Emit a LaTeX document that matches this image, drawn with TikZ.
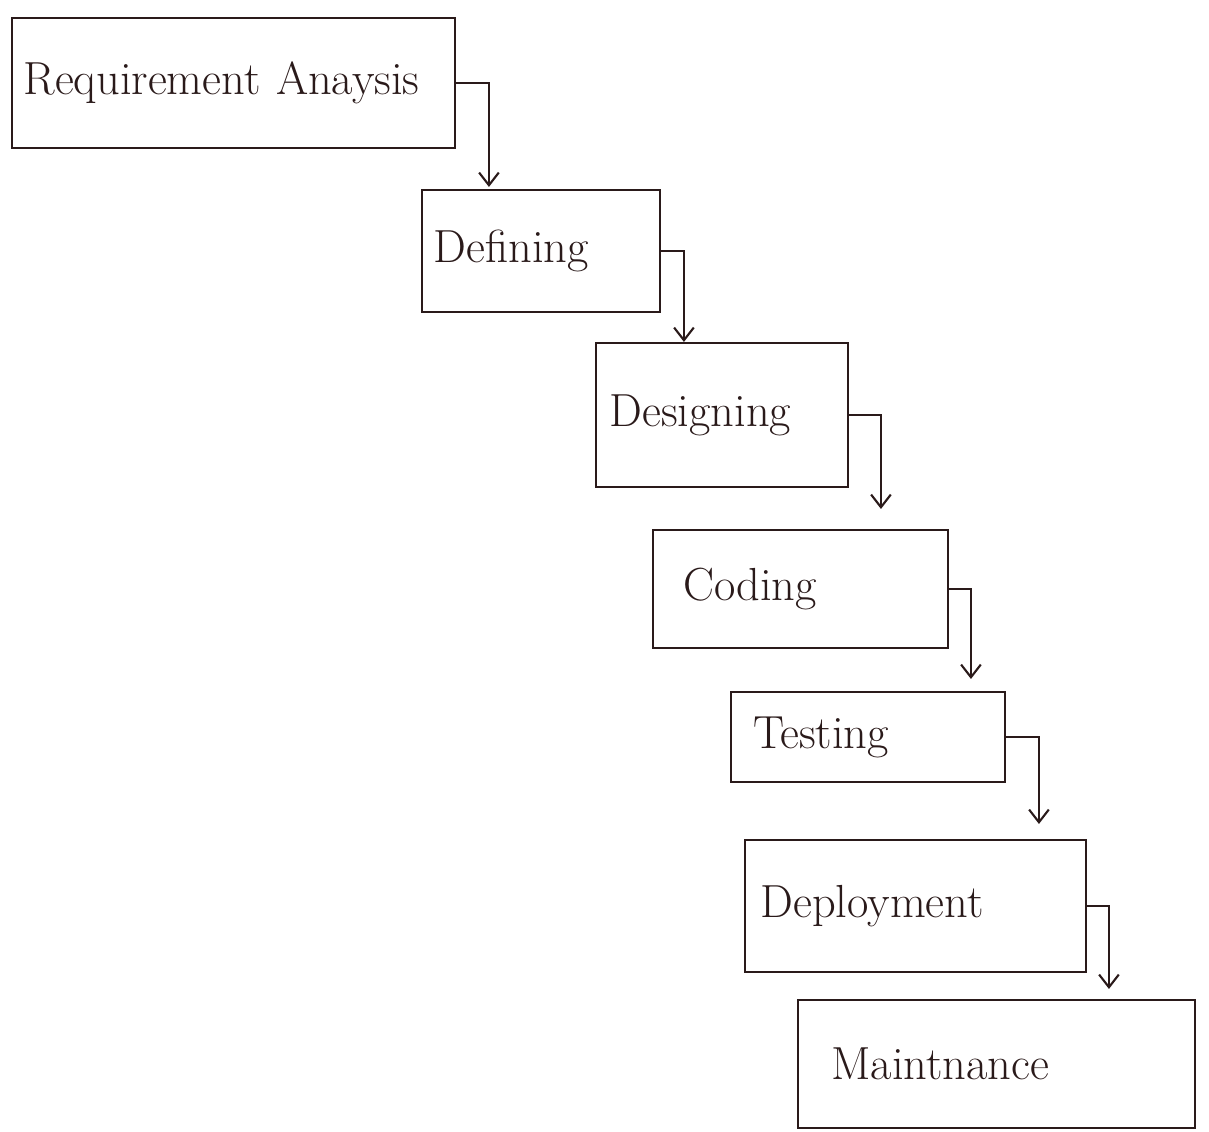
\documentclass[tikz,border=0pt]{standalone}
\usetikzlibrary{arrows.meta,calc}
\definecolor{ink}{HTML}{2A1A1A}
\begin{document}
\begin{tikzpicture}[x=0.025cm,y=-0.025cm,
  stage/.style={draw=ink,line width=1.5pt,rectangle,inner sep=0pt,align=left,
    font=\fontsize{33}{38}\selectfont,text=ink},
  flow/.style={draw=ink,line width=1.5pt,-{Straight Barb[length=9pt,width=14pt]}}]
\useasboundingbox[fill=white] (0,0) rectangle (1209,1131);
\node[stage,minimum width=443*0.025cm,minimum height=130*0.025cm,text width=420*0.025cm] (req) at (233.5,83) {Requirement Anaysis};
\node[stage,minimum width=238*0.025cm,minimum height=122*0.025cm,text width=215*0.025cm] (def) at (541,251) {Defining};
\node[stage,minimum width=252*0.025cm,minimum height=144*0.025cm,text width=225*0.025cm] (des) at (722,415) {Designing};
\node[stage,minimum width=295*0.025cm,minimum height=118*0.025cm,text width=235*0.025cm] (cod) at (800.5,589) {Coding};
\node[stage,minimum width=274*0.025cm,minimum height=90*0.025cm,text width=230*0.025cm] (tes) at (868,737) {Testing};
\node[stage,minimum width=341*0.025cm,minimum height=132*0.025cm,text width=310*0.025cm] (dep) at (915.5,906) {Deployment};
\node[stage,minimum width=397*0.025cm,minimum height=128*0.025cm,text width=330*0.025cm] (mai) at (996.5,1064) {Maintnance};
\draw[flow] (req.east) -| ($(def.north west)+(68,-2)$);
\draw[flow] (def.east) -| ($(des.north west)+(89,0)$);
\draw[flow] (des.east) -| ($(cod.north west)+(229,-20)$);
\draw[flow] (cod.east) -| ($(tes.north west)+(241,-12)$);
\draw[flow] (tes.east) -| ($(dep.north west)+(295,-15)$);
\draw[flow] (dep.east) -| ($(mai.north west)+(312,-10)$);
\end{tikzpicture}
\end{document}
